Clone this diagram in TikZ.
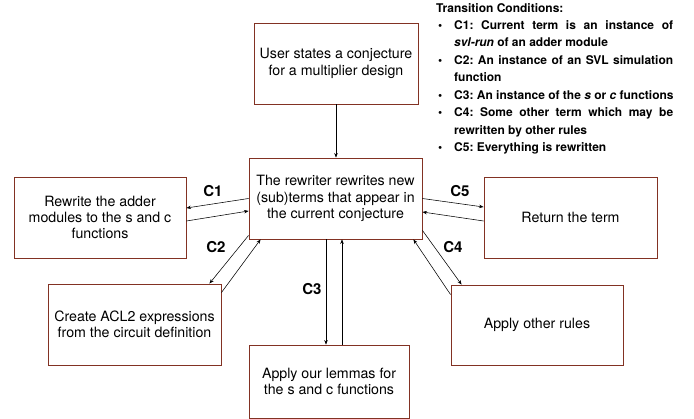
\documentclass[tikz,border=0pt]{standalone}
\usepackage{fontspec}
\setmainfont{TeX Gyre Heros}
\usetikzlibrary{arrows.meta,calc}
\definecolor{boxred}{RGB}{130,50,35}
\frenchspacing
\tikzset{
  box/.style={draw=boxred, line width=0.9pt, fill=white, align=center,
    inner sep=2pt, font=\fontsize{14.2}{16.3}\selectfont},
  conn/.style={line width=0.55pt, -{Stealth[length=4.5pt,width=3.5pt]}},
  clabel/.style={font=\bfseries\fontsize{15}{17}\selectfont, inner sep=0pt},
  cond/.style={anchor=base west, inner sep=0pt, font=\bfseries\fontsize{12}{14}\selectfont},
}
\begin{document}
\begin{tikzpicture}[x=1pt,y=-1pt]
\useasboundingbox (0,0) rectangle (694,419);
\node[box, minimum width=164pt, minimum height=81pt] (top) at (336,63.5)
  {User states a conjecture\\for a multiplier design};
\node[box, minimum width=173pt, minimum height=81pt] (center) at (335.5,198.5)
  {The rewriter rewrites new\\(sub)terms that appear in\\the current conjecture};
\node[box, minimum width=172pt, minimum height=81pt] (rewrite) at (100,217.5)
  {Rewrite the adder\\modules to the s and c\\functions};
\node[box, minimum width=173pt, minimum height=81pt] (return) at (570.5,217.5)
  {Return the term};
\node[box, minimum width=173pt, minimum height=81pt] (acl) at (134.5,324.5)
  {Create ACL2 expressions\\from the circuit definition};
\node[box, minimum width=172pt, minimum height=80pt] (other) at (537,325)
  {Apply other rules};
\node[box, minimum width=160pt, minimum height=73pt] (lemma) at (329,381.5)
  {Apply our lemmas for\\the s and c functions};

% connectors
\draw[conn] (top.south) -- (top.south |- center.north);
\draw[conn] (center.west) -- ([yshift=9.5pt]rewrite.east);
\draw[conn] ([yshift=-3.5pt]rewrite.east) -- ([yshift=-12.5pt]center.west);
\draw[conn] (center.east) -- ([yshift=10.5pt]return.west);
\draw[conn] ([yshift=-3.5pt]return.west) -- ([yshift=-13.5pt]center.east);
\draw[conn] ([yshift=4pt]center.south west) -- ([xshift=-12pt]acl.north east);
\draw[conn] ([yshift=-9pt]acl.north east) -- ([xshift=12pt]center.south west);
\draw[conn] ([yshift=9pt]center.south east) -- ([xshift=11pt]other.north west);
\draw[conn] ([yshift=-10pt]other.north west) -- ([xshift=-9pt]center.south east);
\coordinate (c3a) at ([xshift=-9.5pt]center.south);
\coordinate (c3b) at ([xshift=6.5pt]center.south);
\draw[conn] (c3a) -- (c3a |- lemma.north);
\draw[conn] (c3b |- lemma.north) -- (c3b);

% labels
\node[clabel] (l1) at (213,191) {C1};
\node[clabel] (l2) at (216,247) {C2};
\node[clabel] (l3) at (312,289) {C3};
\node[clabel] (l4) at (453,247) {C4};
\node[clabel] (l5) at (460,191) {C5};

% transition conditions
\node[cond] (tt) at (436,13) {Transition Conditions:};
\node[cond] (t1) at (438,29.5) {\makebox[16pt][l]{\textbullet}\makebox[219pt][s]{C1: Current term is an instance of}};
\node[cond] (t1b) at (454,47) {\textit{svl-run} of an adder module};
\node[cond] (t2) at (438,64.5) {\makebox[16pt][l]{\textbullet}\makebox[219pt][s]{C2: An instance of an SVL simulation}};
\node[cond] (t2b) at (454,82) {function};
\node[cond] (t3) at (438,99.5) {\makebox[16pt][l]{\textbullet}C3: An instance of the \textit{s} or \textit{c} functions};
\node[cond] (t4) at (438,117) {\makebox[16pt][l]{\textbullet}\makebox[219pt][s]{C4: Some other term which may be}};
\node[cond] (t4b) at (454,134.5) {rewritten by other rules};
\node[cond] (t5) at (438,152) {\makebox[16pt][l]{\textbullet}C5: Everything is rewritten};
\end{tikzpicture}
\end{document}
